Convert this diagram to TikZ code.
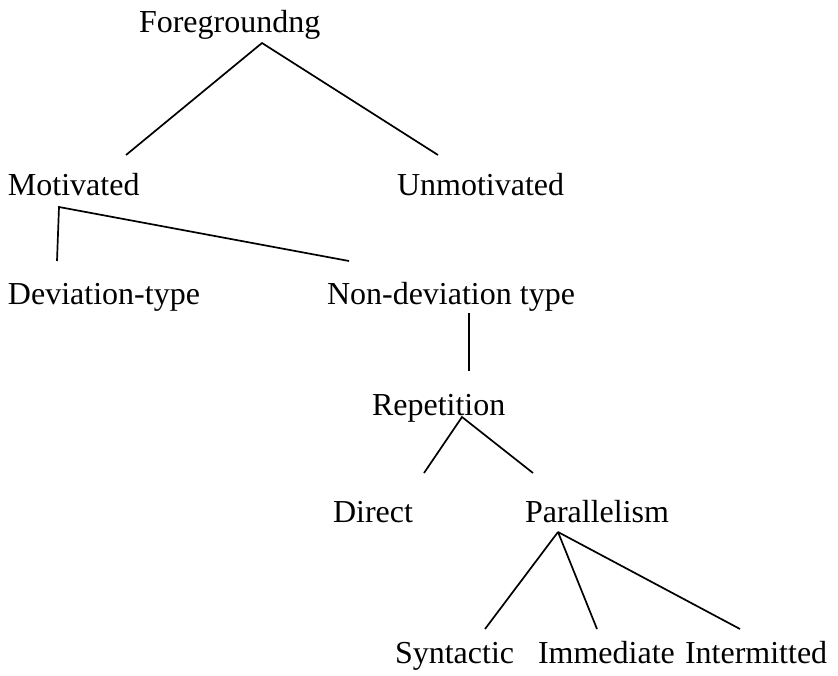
\documentclass[tikz,border=0pt]{standalone}
\usepackage{fontspec}
\setmainfont{Liberation Serif}
\begin{document}
\begin{tikzpicture}[x=1pt,y=-1pt,
  lbl/.style={anchor=base west,inner sep=0pt,outer sep=0pt,font=\fontsize{32}{36}\selectfont},
  edge/.style={line width=1.7pt,line cap=butt}]
\useasboundingbox (0,0) rectangle (838,675);
% labels
\node[lbl] (fg)  at (139,32)  {Foregroundng};
\node[lbl] (mot) at (8,195)   {Motivated};
\node[lbl] (unm) at (397,195) {Unmotivated};
\node[lbl] (dev) at (8,304)   {Deviation-type};
\node[lbl] (non) at (327,304) {Non-deviation type};
\node[lbl] (rep) at (372,415) {Repetition};
\node[lbl] (dir) at (333,522) {Direct};
\node[lbl] (par) at (525,522) {Parallelism};
\node[lbl] (syn) at (395,663) {Syntactic};
\node[lbl] (imm) at (538,663) {Immediate};
\node[lbl] (int) at (685,663) {Intermitted};
% connector end points
\coordinate (fgA)  at (262,43);
\coordinate (motT) at (126,155);
\coordinate (unmT) at (438,155);
\coordinate (motA) at (59,207);
\coordinate (devT) at (57,261);
\coordinate (nonT) at (349,261);
\coordinate (nonA) at (469,313);
\coordinate (repT) at (469,371);
\coordinate (repA) at (462,417);
\coordinate (dirT) at (424,473);
\coordinate (parT) at (533,473);
\coordinate (parA) at (558,532);
\coordinate (synT) at (485,629);
\coordinate (immT) at (597,629);
\coordinate (intT) at (740,629);
% connectors
\draw[edge] (motT) -- (fgA) -- (unmT);
\draw[edge] (devT) -- (motA) -- (nonT);
\draw[edge] (nonA) -- (repT);
\draw[edge] (dirT) -- (repA) -- (parT);
\draw[edge] (synT) -- (parA);
\draw[edge] (immT) -- (parA);
\draw[edge] (intT) -- (parA);
\end{tikzpicture}
\end{document}
